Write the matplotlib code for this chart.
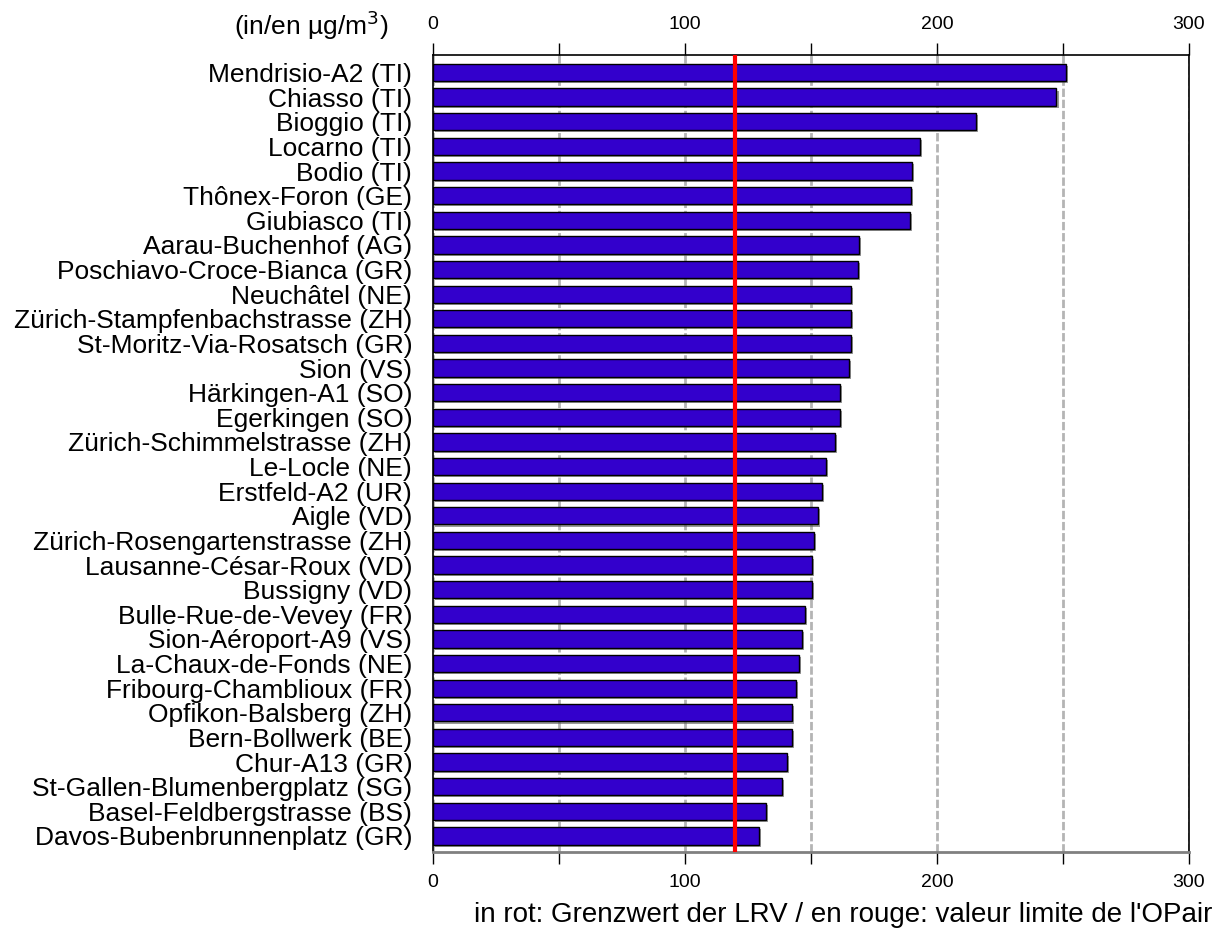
import numpy as np
import matplotlib
matplotlib.use("Agg")
import matplotlib.pyplot as plt
import matplotlib.patheffects as pe

plt.rcParams['font.family'] = ['Liberation Sans', 'DejaVu Sans']

# Stationen und Werte (in µg/m3)
stationen = [
    "Mendrisio-A2 (TI)", "Chiasso (TI)", "Bioggio (TI)", "Locarno (TI)",
    "Bodio (TI)", "Thônex-Foron (GE)", "Giubiasco (TI)", "Aarau-Buchenhof (AG)",
    "Poschiavo-Croce-Bianca (GR)", "Neuchâtel (NE)", "Zürich-Stampfenbachstrasse (ZH)",
    "St-Moritz-Via-Rosatsch (GR)", "Sion (VS)", "Härkingen-A1 (SO)", "Egerkingen (SO)",
    "Zürich-Schimmelstrasse (ZH)", "Le-Locle (NE)", "Erstfeld-A2 (UR)", "Aigle (VD)",
    "Zürich-Rosengartenstrasse (ZH)", "Lausanne-César-Roux (VD)", "Bussigny (VD)",
    "Bulle-Rue-de-Vevey (FR)", "Sion-Aéroport-A9 (VS)", "La-Chaux-de-Fonds (NE)",
    "Fribourg-Chamblioux (FR)", "Opfikon-Balsberg (ZH)", "Bern-Bollwerk (BE)",
    "Chur-A13 (GR)", "St-Gallen-Blumenbergplatz (SG)", "Basel-Feldbergstrasse (BS)",
    "Davos-Bubenbrunnenplatz (GR)",
]
werte = [
    251.3, 247.4, 215.3, 193.3, 190.2, 189.7, 189.3, 169.0,
    168.5, 165.9, 165.9, 165.9, 165.0, 161.4, 161.4, 159.4,
    155.8, 154.4, 152.6, 151.1, 150.3, 150.3, 147.5, 146.3,
    145.1, 143.9, 142.6, 142.3, 140.5, 138.5, 132.3, 129.4,
]
grenzwert = 120
ticks_major = [0, 50, 100, 150, 200, 250, 300]
tick_labels = ["0", "", "100", "", "200", "", "300"]

fig = plt.figure(figsize=(12.21, 9.31), dpi=100)
ax = fig.add_axes([433 / 1221, 1 - 852 / 931, (1189 - 433) / 1221, (852 - 55) / 931])

y = np.arange(len(stationen))
bars = ax.barh(y, werte, height=0.7, color='#3300cc', edgecolor='black',
               linewidth=1.0, zorder=3)
for b in bars:
    b.set_path_effects([pe.SimplePatchShadow(offset=(1.5, -1.5), shadow_rgbFace='#555555', alpha=0.6),
                        pe.Normal()])

ax.axvline(grenzwert, color='#ff0000', linewidth=3, zorder=4)

ax.set_xlim(0, 300)
ax.set_ylim(len(stationen) - 1 + 0.65, -0.71)

ax.set_xticks(ticks_major)
ax.set_xticklabels(tick_labels, fontsize=14)
ax.tick_params(axis='x', which='both', top=True, labeltop=True, bottom=True,
               labelbottom=True, direction='out', length=8.5, width=1, pad=7)
ax.set_yticks(y)
ax.set_yticklabels(stationen, fontsize=19)
ax.tick_params(axis='y', length=0, pad=15)

ax.grid(axis='x', color='#b4b4b4', linestyle=(0, (3, 1)), linewidth=2, zorder=1)
ax.set_axisbelow(True)

for s in ['top', 'left', 'right']:
    ax.spines[s].set_color('black')
    ax.spines[s].set_linewidth(1.2)
ax.spines['bottom'].set_color('#808080')
ax.spines['bottom'].set_linewidth(2)

fig.text(388 / 1221, 1 - 25 / 931, "(in/en µg/m$^3$)", fontsize=19,
         ha='right', va='center')
fig.text(843 / 1221, 1 - 915 / 931,
         "in rot: Grenzwert der LRV / en rouge: valeur limite de l'OPair",
         fontsize=20, ha='center', va='center')

fig.savefig('out.png', dpi=100)
